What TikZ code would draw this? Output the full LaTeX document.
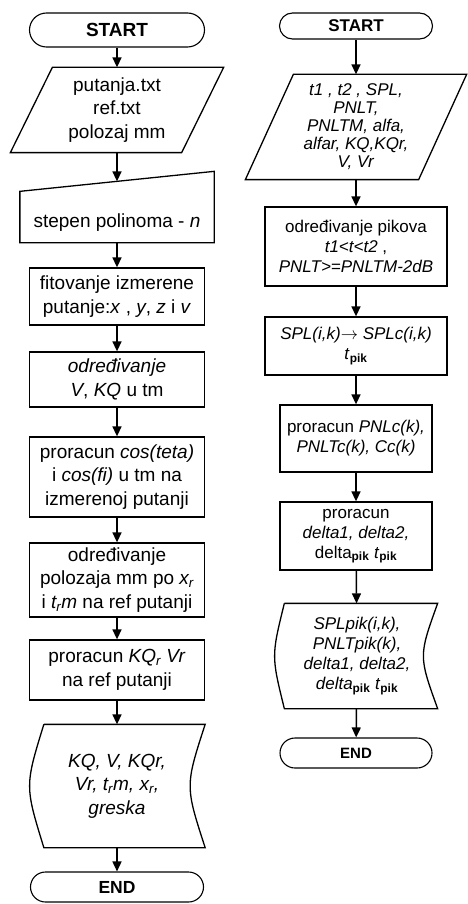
\documentclass[tikz,border=0pt]{standalone}
\usepackage{fontspec}
\setmainfont{Liberation Sans}
\usetikzlibrary{arrows.meta}

\begin{document}
\begin{tikzpicture}
  [x=1pt,y=-1pt,line width=1.3pt,
   box/.style={draw,rectangle,align=center,inner sep=2pt},
   bare/.style={rectangle,align=center,inner sep=2pt},
   term/.style={draw,rectangle,align=center,line width=1.1pt},
   lft/.style={font=\fontsize{19}{23.5}\selectfont},
   rgt/.style={font=\fontsize{17}{20}\selectfont},
   go/.style={-{Triangle[length=10pt,width=9pt]},line width=1.5pt}]
  \useasboundingbox (0,0) rectangle (467,904);

  % left column
  \node[term,rounded corners=17pt,minimum width=175pt,minimum height=34pt,font=\fontsize{19}{22}\selectfont\bfseries] (l1) at (117,30) {START};
  \node[bare,lft,minimum width=212pt,minimum height=84pt] (l2) at (117,110) {putanja.txt\\ref.txt\\polozaj mm};
  \node[bare,lft,minimum width=193pt,minimum height=38pt] (l3) at (117,223) {stepen polinoma - \textit{n}};
  \node[box,lft,minimum width=175pt,minimum height=57pt] (l4) at (117,296.5) {fitovanje izmerene\\putanje:\textit{x} , \textit{y}, \textit{z} i \textit{v}};
  \node[box,lft,minimum width=175pt,minimum height=55pt] (l5) at (117,379.5) {\textit{određivanje}\\\textit{V}, \textit{KQ} u tm};
  \node[box,lft,minimum width=175pt,minimum height=80pt] (l6) at (117,477) {proracun \textit{cos(teta)}\\i \textit{cos(fi)} u tm na\\izmerenoj putanji};
  \node[box,lft,minimum width=175pt,minimum height=74pt] (l7) at (117,580) {određivanje\\polozaja mm po \textit{x\textsubscript{r}}\\i \textit{t\textsubscript{r}m} na ref putanji};
  \node[box,lft,minimum width=175pt,minimum height=60pt] (l8) at (117,670) {proracun \textit{KQ\textsubscript{r} Vr}\\na ref putanji};
  \node[bare,lft,minimum width=175pt,minimum height=122pt] (l9) at (117,786) {\textit{KQ, V, KQr,}\\\textit{Vr, t\textsubscript{r}m, x\textsubscript{r},}\\\textit{greska}};
  \node[term,rounded corners=15pt,minimum width=173pt,minimum height=30pt,font=\fontsize{17.5}{20}\selectfont\bfseries] (l10) at (117,887) {END};

  \draw ([xshift=42pt]l2.north west) -- (l2.north east) -- ([xshift=-42pt]l2.south east) -- (l2.south west) -- cycle;
  \draw ([yshift=12pt]l3.north west) -- ([yshift=32pt]l3.north east) -- (l3.south east) -- (l3.south west) -- cycle;
  \coordinate (l3in) at ([yshift=22pt]l3.north);
  \draw ([xshift=15pt]l9.north west) -- (l9.north east) .. controls ([xshift=-20pt]l9.east) .. (l9.south east)
        -- ([xshift=15pt]l9.south west) .. controls ([xshift=-4pt]l9.west) .. ([xshift=15pt]l9.north west);

  \draw[go] (l1) -- (l2);
  \draw[go] (l2) -- (l3in);
  \draw[go] (l3) -- (l4);
  \draw[go] (l4) -- (l5);
  \draw[go] (l5) -- (l6);
  \draw[go] (l6) -- (l7);
  \draw[go] (l7) -- (l8);
  \draw[go] (l8) -- (l9);
  \draw[go] (l9) -- (l10);

  % right column
  \node[term,rounded corners=13pt,minimum width=153pt,minimum height=26pt,font=\fontsize{17}{20}\selectfont\bfseries] (r1) at (356,26) {START};
  \node[bare,font=\fontsize{17}{18}\selectfont,minimum width=220pt,minimum height=104pt] (r2) at (356,127) {\textit{t1 , t2 , SPL,}\\\textit{PNLT,}\\\textit{PNLTM, alfa,}\\\textit{alfar, KQ,KQr,}\\\textit{V, Vr}};
  \node[box,rgt,minimum width=182pt,minimum height=79pt] (r3) at (356,246.5) {određivanje pikova\\\textit{t1<t<t2} ,\\\textit{PNLT>=PNLTM-2dB}};
  \node[box,rgt,minimum width=182pt,minimum height=58pt] (r4) at (356,346) {\textit{SPL(i,k)}$\rightarrow$ \textit{SPLc(i,k)}\\\textit{t}\textsubscript{\textbf{pik}}};
  \node[box,rgt,minimum width=152pt,minimum height=67pt] (r5) at (356,438.5) {proracun \textit{PNLc(k),}\\\textit{PNLTc(k), Cc(k)}};
  \node[box,rgt,minimum width=152pt,minimum height=68pt] (r6) at (356,536) {proracun\\\textit{delta1, delta2,}\\delta\textsubscript{\textbf{pik}} \textit{t}\textsubscript{\textbf{pik}}};
  \node[bare,rgt,minimum width=160pt,minimum height=104pt] (r7) at (357,656) {\textit{SPLpik(i,k),}\\\textit{PNLTpik(k),}\\\textit{delta1, delta2,}\\\textit{delta}\textsubscript{\textbf{pik}} \textit{t}\textsubscript{\textbf{pik}}};
  \node[term,rounded corners=15pt,minimum width=152pt,minimum height=30pt,font=\fontsize{15}{18}\selectfont\bfseries] (r8) at (356,753) {END};

  \draw ([xshift=48pt]r2.north west) -- (r2.north east) -- ([xshift=-48pt]r2.south east) -- (r2.south west) -- cycle;
  \draw ([xshift=8pt]r7.north west) -- (r7.north east) .. controls ([xshift=-19pt]r7.east) .. (r7.south east)
        -- ([xshift=8pt]r7.south west) .. controls ([xshift=-5pt]r7.west) .. ([xshift=8pt]r7.north west);

  \draw[go] (r1) -- (r2);
  \draw[go] (r2) -- (r3);
  \draw[go] (r3) -- (r4);
  \draw[go] (r4) -- (r5);
  \draw[go] (r5) -- (r6);
  \draw[go] (r6) -- (r7);
  \draw[go] (r7) -- (r8);
\end{tikzpicture}
\end{document}
